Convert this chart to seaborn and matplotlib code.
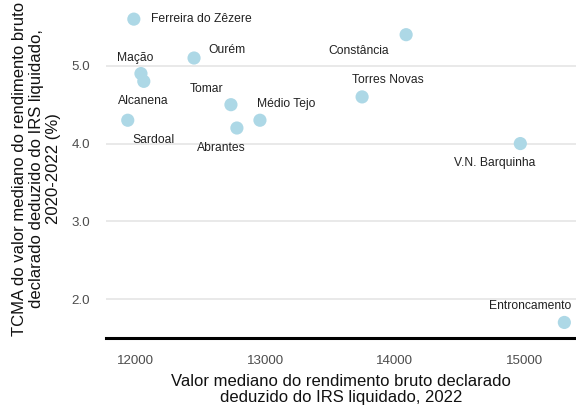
import matplotlib
matplotlib.use("Agg")
import matplotlib.pyplot as plt
import seaborn as sns
import pandas as pd

municipios = ["Ferreira do Zêzere", "Ourém", "Mação", "Alcanena", "Sardoal", "Tomar",
              "Abrantes", "Médio Tejo", "Torres Novas", "Constância", "V.N. Barquinha",
              "Entroncamento"]
rendimento = [11985, 12450, 12040, 12062, 11938, 12735, 12781, 12959, 13748, 14088, 14970, 15310]
tcma = [5.6, 5.1, 4.9, 4.8, 4.3, 4.5, 4.2, 4.3, 4.6, 5.4, 4.0, 1.7]

# label offsets in pixels (dx, dy)
offsets = {
    "Ferreira do Zêzere": (17, 0, "left"),
    "Ourém": (33, 8, "center"),
    "Mação": (-6, 16, "center"),
    "Alcanena": (-1, -20, "center"),
    "Sardoal": (26, -20, "center"),
    "Tomar": (-24, 16, "center"),
    "Abrantes": (-16, -20, "center"),
    "Médio Tejo": (26, 16, "center"),
    "Torres Novas": (26, 17, "center"),
    "Constância": (-47, -16, "center"),
    "V.N. Barquinha": (-26, -19, "center"),
    "Entroncamento": (-34, 16, "center"),
}

df = pd.DataFrame({"municipio": municipios, "rendimento": rendimento, "tcma": tcma})

sns.set_theme(style="white")
plt.rcParams["font.family"] = ["Liberation Sans", "DejaVu Sans"]

dpi = 100
fig = plt.figure(figsize=(5.76, 4.08), dpi=dpi)
ax = fig.add_axes([106 / 576, 1 - 338 / 408, 1 - 106 / 576, 338 / 408])

sns.scatterplot(data=df, x="rendimento", y="tcma", ax=ax, color="#ADD8E6",
                s=90, edgecolor="none", zorder=3, clip_on=False)

px2pt = 72 / dpi
for name, x, y in zip(municipios, rendimento, tcma):
    dx, dy, ha = offsets[name]
    ax.annotate(name, (x, y), xytext=(dx * px2pt, dy * px2pt), textcoords="offset points",
                ha=ha, va="center", fontsize=8.7, color="#222222", zorder=4)

ax.set_xlim(11770, 15400)
ax.set_ylim(1.5, 5.846)
ax.set_xticks([12000, 13000, 14000, 15000])
ax.set_yticks([2.0, 3.0, 4.0, 5.0])
ax.set_yticklabels(["2.0", "3.0", "4.0", "5.0"])
ax.tick_params(axis="both", length=0, labelsize=9.6, labelcolor="#4D4D4D")
ax.tick_params(axis="y", pad=11.5)
ax.tick_params(axis="x", pad=12.5)
ax.grid(axis="y", color="#E3E3E3", linewidth=1.1)
ax.grid(axis="x", visible=False)
for s in ["top", "right", "left"]:
    ax.spines[s].set_visible(False)
ax.spines["bottom"].set_color("black")
ax.spines["bottom"].set_linewidth(2.2)

ax.set_xlabel("Valor mediano do rendimento bruto declarado\ndeduzido do IRS liquidado, 2022",
              fontsize=12, color="#111111", labelpad=4.5, linespacing=1.1)
ax.set_ylabel("TCMA do valor mediano do rendimento bruto\ndeclarado deduzido do IRS liquidado,\n2020-2022 (%)",
              fontsize=12, color="#111111", labelpad=7.5, linespacing=1.15)

fig.savefig("out.png", dpi=dpi)
